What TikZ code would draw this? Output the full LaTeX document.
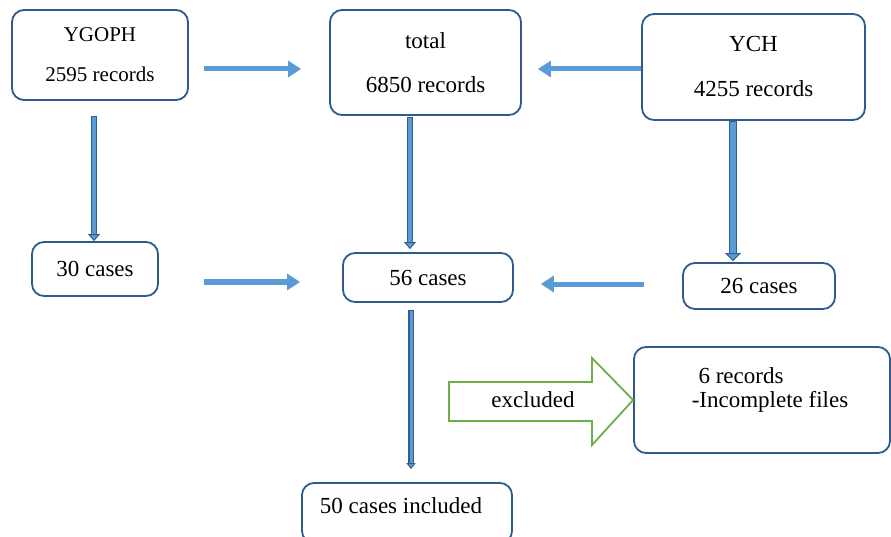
\documentclass[tikz,border=0pt]{standalone}
\usepackage{fontspec}
\setmainfont{Liberation Serif}
\usetikzlibrary{arrows.meta,calc}
\definecolor{boxblue}{HTML}{2F5B8C}
\definecolor{arrlight}{HTML}{5B9BD5}
\definecolor{arrdark}{HTML}{325F92}
\definecolor{exgreen}{HTML}{70AD47}
\tikzset{
  box/.style={draw=boxblue, line width=1.8pt, rounded corners=12pt, inner sep=0pt, align=center, font=\fontsize{23}{27}\selectfont},
  txt/.style={inner sep=0pt, font=\fontsize{23}{27}\selectfont},
  harrow/.style={draw=arrlight, line width=5pt, -{Triangle[length=13pt,width=16pt]}},
  vouter/.style={draw=arrdark, line width=#1, -{Triangle[length=7pt,width=12pt,line width=1pt,fill=arrlight]}},
  vinner/.style={draw=arrlight, line width=#1, shorten >=7pt, shorten <=1pt},
}
\begin{document}
\begin{tikzpicture}[x=1pt,y=-1pt]
\useasboundingbox (0,0) rectangle (891,537);
% boxes
\node[box, minimum width=176pt, minimum height=90pt, font=\fontsize{21}{25}\selectfont] (ygoph) at (100,55) {YGOPH\\[15pt]2595 records};
\node[box, minimum width=191pt, minimum height=105pt] (total) at (425.5,62.5) {total\\[17pt]6850 records};
\node[box, minimum width=223pt, minimum height=106pt] (ych) at (753.5,67) {YCH\\[18pt]4255 records};
\node[box, minimum width=126pt, minimum height=54pt] (c30) at (95,269) {30 cases};
\node[box, minimum width=170pt, minimum height=49pt] (c56) at (428,277.5) {56 cases};
\node[box, minimum width=152pt, minimum height=46pt] (c26) at (759,286) {26 cases};
\node[box, minimum width=256pt, minimum height=106pt] (rec6) at (762,400) {};
\node[txt] (rec6a) at (741,376) {6 records};
\node[txt] (rec6b) at (770,402) {-Incomplete files};
\node[box, minimum width=210pt, minimum height=60pt] (c50) at (407,513) {};
\node[txt] (c50t) at (401,506) {50 cases included};
% horizontal arrows
\draw[harrow] ($(ygoph.east)+(15,14)$) -- ($(total.west)+(-28,6.5)$);
\draw[harrow] ($(ych.west)+(0,2)$) -- ($(total.east)+(16,6.5)$);
\draw[harrow] ($(c30.east)+(45,13)$) -- ($(c56.west)+(-42,4.5)$);
\draw[harrow] ($(c26.west)+(-38,-2)$) -- ($(c56.east)+(27,6.5)$);
% vertical double arrows
\draw[vouter=6pt] ($(ygoph.south)+(-6,15)$) -- ($(c30.north)+(-1,0)$);
\draw[vinner=3.5pt] ($(ygoph.south)+(-6,15)$) -- ($(c30.north)+(-1,0)$);
\draw[vouter=6pt] ($(total.south)+(-15.5,1)$) -- ($(c56.north)+(-18,-3)$);
\draw[vinner=3.5pt] ($(total.south)+(-15.5,1)$) -- ($(c56.north)+(-18,-3)$);
\draw[vouter={8pt}, -{Triangle[length=8pt,width=16pt,line width=1pt,fill=arrlight]}] ($(ych.south)+(-20.5,0)$) -- ($(c26.north)+(-26,-1)$);
\draw[vinner=5.5pt, shorten >=8pt] ($(ych.south)+(-20.5,0)$) -- ($(c26.north)+(-26,-1)$);
\draw[vouter=5.5pt, -{Triangle[length=6pt,width=9pt,line width=1pt,fill=arrlight]}] ($(c56.south)+(-17,7)$) -- ($(c50.north)+(4,-13)$);
\draw[vinner=3pt, shorten >=6pt] ($(c56.south)+(-17,7)$) -- ($(c50.north)+(4,-13)$);
% excluded block arrow
\draw[exgreen, line width=1.8pt, line join=miter] (449,382) -- (592,382) -- (592,358) -- (rec6.west) -- (592,445) -- (592,421) -- (449,421) -- cycle;
\node[txt] (excl) at (533,400) {excluded};
\end{tikzpicture}
\end{document}
